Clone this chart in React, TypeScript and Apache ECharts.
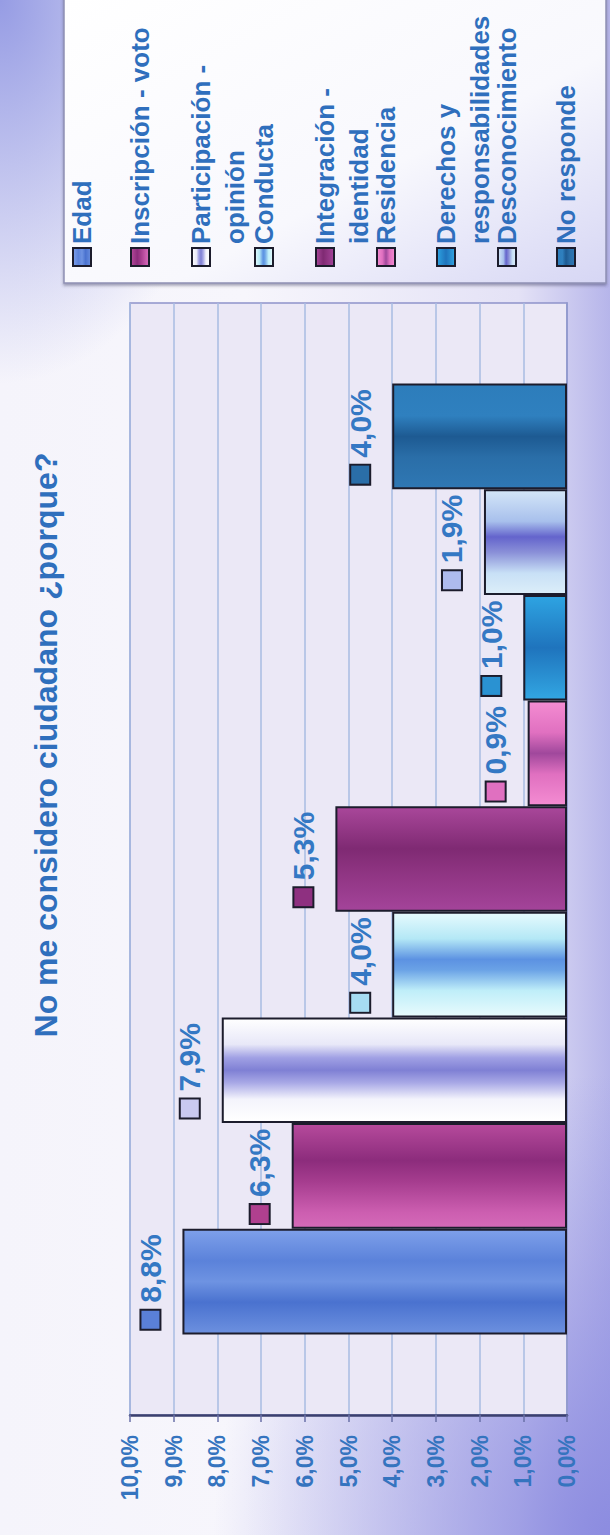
import React, { useEffect, useRef } from 'react';
import * as echarts from 'echarts';

const titleText = 'No me considero ciudadano ¿porque?';
const categories = [
  'Edad',
  'Inscripción - voto',
  'Participación - opinión',
  'Conducta',
  'Integración - identidad',
  'Residencia',
  'Derechos y responsabilidades',
  'Desconocimiento',
  'No responde',
];
const legendLines = [
  ['Edad'],
  ['Inscripción - voto'],
  ['Participación -', 'opinión'],
  ['Conducta'],
  ['Integración -', 'identidad'],
  ['Residencia'],
  ['Derechos y', 'responsabilidades'],
  ['Desconocimiento'],
  ['No responde'],
];
const values = [8.8, 6.3, 7.9, 4.0, 5.3, 0.9, 1.0, 1.9, 4.0];

// styling (not data)
const FONT = '"Liberation Sans", Arial, Helvetica, sans-serif';
const TEXT_BLUE = '#2f6fbd';
const swatch = ['#5a80d8', '#b0408f', '#c9c9f0', '#a6dcf2', '#8e3080', '#e070c0', '#2a92d2', '#aebbee', '#2a6ea8'];
const stops: [number, string][][] = [
  [[0, '#7ea0ea'], [0.3, '#5b82da'], [0.5, '#6e93e2'], [0.7, '#4a72cf'], [1, '#6c90df']],
  [[0, '#b64a9c'], [0.35, '#8c2c7c'], [0.55, '#a53c8e'], [0.85, '#cc5eb0'], [1, '#d46ab8']],
  [[0, '#ffffff'], [0.25, '#e8e8f8'], [0.38, '#a0a0e4'], [0.5, '#7f80d4'], [0.62, '#a8a8e6'], [0.78, '#f4f4fc'], [1, '#ffffff']],
  [[0, '#e6fafd'], [0.25, '#b4e8f6'], [0.45, '#5c92e2'], [0.55, '#6aa2e6'], [0.75, '#bfeef9'], [1, '#e8fbfd']],
  [[0, '#a9479a'], [0.4, '#7f2a73'], [0.6, '#8d3380'], [1, '#a4449a']],
  [[0, '#f48cd2'], [0.3, '#e070c0'], [0.5, '#a0489c'], [0.7, '#e070c0'], [1, '#f48cd2']],
  [[0, '#2ea4e2'], [0.5, '#1f74bd'], [1, '#32a6e2']],
  [[0, '#d4e6f8'], [0.3, '#a8c0ec'], [0.45, '#6464cc'], [0.6, '#8a90d8'], [0.8, '#c8e0f6'], [1, '#dceef9']],
  [[0, '#2d7dbb'], [0.3, '#2f80bf'], [0.5, '#1d5a92'], [0.7, '#2a6ea8'], [1, '#2f78b4']],
];
const legendX = [82, 140, 201, 264, 325, 386, 446, 507, 566];

const grad = (i: number, horizontal = false) => ({
  type: 'linear',
  x: 0,
  y: 0,
  x2: horizontal ? 1 : 0,
  y2: horizontal ? 0 : 1,
  colorStops: stops[i].map(([offset, color]) => ({ offset, color })),
});

const fmt = (v: number) => v.toFixed(1).replace('.', ',') + '%';

export default function App() {
  const ref = useRef<HTMLDivElement>(null);
  useEffect(() => {
    if (!ref.current) return;
    const chart = echarts.init(ref.current, undefined, { renderer: 'svg' });

    const order = categories.map((_, i) => i).reverse();
    const series = order.map((i) => ({
      type: 'bar',
      name: categories[i],
      data: [values[i]],
      barGap: '0%',
      barCategoryGap: '14.5%',
      itemStyle: { color: grad(i), borderColor: '#1c1c2c', borderWidth: 2 },
      label: {
        show: true,
        position: 'left',
        distance: 32,
        rotate: 90,
        align: 'center',
        verticalAlign: 'middle',
        formatter: (p: any) => '{sq| }{gap| }{v|' + fmt(p.value) + '}',
        rich: {
          sq: { width: 18, height: 18, backgroundColor: swatch[i], borderColor: '#1c1c2c', borderWidth: 2 },
          gap: { width: 8 },
          v: { fontSize: 30, fontWeight: 'bold', color: '#3478c4', fontFamily: FONT },
        },
      },
    }));

    const legendEls: any[] = [
      {
        type: 'rect',
        shape: { x: 64, y: -4, width: 542, height: 287 },
        style: {
          fill: {
            type: 'linear', x: 0, y: 0, x2: 1, y2: 1,
            colorStops: [
              { offset: 0, color: '#ffffff' },
              { offset: 0.6, color: '#f8f8fd' },
              { offset: 1, color: '#d6d6f4' },
            ],
          },
          stroke: '#8f90b4',
          lineWidth: 1.5,
          shadowBlur: 3,
          shadowColor: 'rgba(60,60,90,0.45)',
          shadowOffsetY: 2,
        },
      },
    ];
    categories.forEach((_, i) => {
      const cx = legendX[i];
      legendEls.push({
        type: 'rect',
        shape: { x: cx - 9, y: 248, width: 18, height: 18 },
        style: { fill: grad(i, true), stroke: '#1c1c2c', lineWidth: 2 },
      });
      legendLines[i].forEach((line, j) => {
        legendEls.push({
          type: 'text',
          x: cx + j * 34,
          y: 244,
          rotation: Math.PI / 2,
          style: {
            text: line,
            fontSize: 26,
            fontWeight: 'bold',
            fontFamily: FONT,
            fill: TEXT_BLUE,
            align: 'left',
            verticalAlign: 'middle',
          },
        });
      });
    });

    chart.setOption({
      animation: false,
      backgroundColor: 'transparent',
      grid: {
        left: 130,
        right: 43,
        top: 303,
        bottom: 120,
        show: true,
        backgroundColor: '#ebe8f6',
        borderColor: '#8e93ca',
        borderWidth: 1.5,
      },
      xAxis: {
        type: 'value',
        inverse: true,
        min: 0,
        max: 10,
        interval: 1,
        position: 'bottom',
        axisLine: { show: true, onZero: false, lineStyle: { color: '#3a3f6e', width: 2.5 } },
        axisTick: { show: true, length: 7, inside: false, lineStyle: { color: '#6a70a8', width: 1.5 } },
        splitLine: { show: true, lineStyle: { color: '#a8bde2', width: 1.5 } },
        axisLabel: {
          rotate: 90,
          margin: 20,
          formatter: fmt,
          color: '#3574bf',
          fontSize: 23,
          fontWeight: 'bold',
          fontFamily: FONT,
        },
      },
      yAxis: {
        type: 'category',
        data: [''],
        position: 'right',
        axisLine: { show: true, onZero: false, lineStyle: { color: '#8e93ca', width: 1.5 } },
        axisTick: { show: false },
        axisLabel: { show: false },
      },
      series,
      graphic: [
        {
          type: 'text',
          x: 46,
          y: 745,
          rotation: Math.PI / 2,
          style: {
            text: titleText,
            fontSize: 32,
            fontWeight: 'bold',
            fontFamily: FONT,
            fill: TEXT_BLUE,
            align: 'center',
            verticalAlign: 'middle',
          },
        },
        ...legendEls,
      ],
    });
    return () => chart.dispose();
  }, []);

  return (
    <div
      ref={ref}
      style={{
        position: 'absolute',
        left: 0,
        top: 0,
        width: 610,
        height: 1535,
        background:
          'radial-gradient(ellipse 65% 30% at 100% 100%, rgba(140,140,224,1) 0%, rgba(140,140,224,0) 100%),' +
          'radial-gradient(ellipse 40% 25% at 0% 0%, rgba(150,156,228,1) 0%, rgba(150,156,228,0) 100%),' +
          'linear-gradient(90deg, #f5f4fb 0%, #f7f6fc 40%, #e4e2f6 85%, #b6b5ea 100%)',
      }}
    />
  );
}
